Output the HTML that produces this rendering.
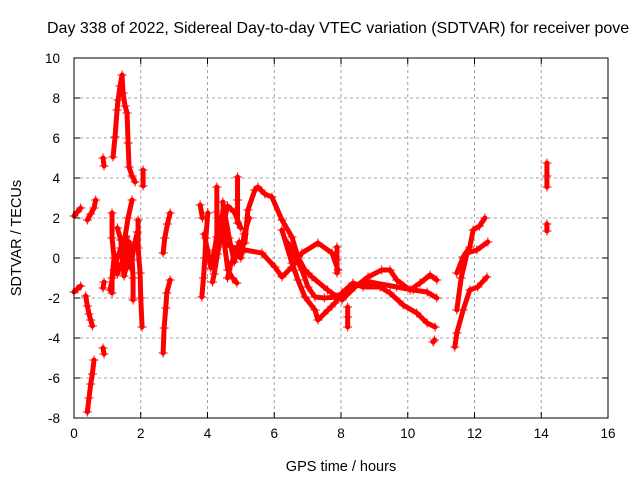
<!DOCTYPE html>
<html><head><meta charset="utf-8"><style>
body{margin:0;background:#fff}
svg{display:block;font-family:"Liberation Sans",sans-serif}
</style></head><body>
<svg id="chart" width="640" height="480">
<text x="47" y="33" font-size="16">Day 338 of 2022, Sidereal Day-to-day VTEC variation (SDTVAR) for receiver pove</text>
<text x="341" y="471" font-size="14.5" text-anchor="middle">GPS time / hours</text>
<text transform="translate(21,238) rotate(-90)" font-size="14.5" text-anchor="middle">SDTVAR / TECUs</text>
<g id="grid"></g><g id="marks"></g><g id="axes"></g>
</svg>
<script>
const xTicks=[0,2,4,6,8,10,12,14,16];
const yTicks=[-8,-6,-4,-2,0,2,4,6,8,10];
const track1=[[0,2.1],[0.1,2.3],[0.2,2.5]];
const track2=[[0,-1.7],[0.1,-1.55],[0.2,-1.4]];
const track3=[[0.35,-1.9],[0.4,-2.4],[0.45,-2.8],[0.5,-3.1],[0.55,-3.4]];
const track4=[[0.4,-7.7],[0.45,-7.0],[0.5,-6.3],[0.55,-5.8],[0.6,-5.1]];
const track5=[[0.4,1.9],[0.5,2.2],[0.6,2.5],[0.65,2.9]];
const track6=[[0.87,5.0],[0.9,4.6]];
const track7=[[0.87,-4.5],[0.9,-4.8]];
const track8=[[0.87,-1.5],[0.9,-1.2]];
const track9=[[1.17,5.05],[1.23,6.05],[1.29,7.4],[1.32,7.9],[1.38,8.6],[1.44,9.15],[1.47,8.25],[1.53,7.6],[1.59,7.25],[1.62,5.75],[1.65,4.55],[1.74,4.1],[1.83,3.8]];
const track10=[[1.08,-1.6],[1.2,-0.6],[1.3,0.0],[1.4,0.5],[1.53,1.05],[1.62,2.0],[1.74,2.9]];
const track11=[[1.14,2.25],[1.14,1.0],[1.2,0.0],[1.14,-1.0],[1.14,-1.75]];
const track12=[[1.65,0.8],[1.74,-0.1],[1.77,-1.0],[1.77,-2.1]];
const track13=[[1.92,1.9],[1.92,0.5],[1.98,-0.75],[2.0,-2.0],[2.04,-3.45]];
const track14=[[2.07,4.4],[2.07,3.6]];
const track15=[[2.67,0.25],[2.72,1.0],[2.8,1.7],[2.88,2.25]];
const track16=[[2.67,-4.75],[2.7,-3.5],[2.75,-2.5],[2.78,-1.75],[2.88,-1.1]];
const track17=[[3.83,-1.95],[3.88,-1.0],[3.92,0.0],[3.95,1.0],[4.01,2.25]];
const track18=[[3.78,2.65],[3.85,2.0]];
const track19=[[4.28,3.55],[4.28,2.3],[4.28,1.05]];
const track20=[[4.46,2.8],[4.5,1.6],[4.52,0.55],[4.61,-0.6],[4.75,-1.0],[4.88,-1.25]];
const track21=[[4.9,4.05],[4.9,2.9],[4.9,1.75]];
const track22=[[4.31,0.9],[4.73,0.55],[5.12,0.4],[5.63,0.25],[6.02,-0.45],[6.23,-0.95],[6.53,-0.45],[6.83,0.25],[7.31,0.75],[7.73,0.25],[7.91,-0.6]];
const track23=[[5.12,0.75],[5.21,2.4],[5.42,3.4],[5.51,3.55],[5.72,3.2],[5.93,3.05],[6.23,1.9],[6.53,1.05],[6.71,0.05],[6.92,-0.6],[7.13,-0.95],[7.6,-1.6],[8.03,-2.1],[8.42,-1.45],[8.81,-0.95],[9.22,-0.6],[9.47,-0.6],[9.67,-1.1],[10.07,-1.6],[10.37,-1.25],[10.67,-0.85],[10.87,-1.1]];
const track24=[[6.23,1.4],[6.53,-0.25],[6.71,-1.1],[6.92,-1.95],[7.22,-2.6],[7.31,-3.1],[7.61,-2.6],[7.82,-2.25],[8.03,-1.75],[8.36,-1.25],[8.66,-1.45],[9.17,-1.45],[9.47,-1.75],[9.86,-2.35],[10.27,-2.75],[10.58,-3.25],[10.82,-3.45]];
const track25=[[6.41,0.75],[6.83,-0.6],[7.01,-1.45],[7.22,-1.95],[7.5,-2.0],[7.88,-1.95],[8.36,-1.45],[8.87,-1.2],[9.67,-1.45],[10.16,-1.6],[10.58,-1.7],[10.87,-2.0]];
const track26=[[7.88,0.55],[7.88,-0.1],[7.88,-0.75]];
const track27=[[8.2,-2.45],[8.2,-2.95],[8.2,-3.45]];
const track28=[[10.76,-4.2],[10.8,-4.1]];
const track29=[[5.0,1.5],[4.8,2.3],[4.6,2.6],[4.45,1.5],[4.3,0.2],[4.2,-0.8],[4.15,-1.2]];
const track30=[[11.47,-0.75],[11.66,0.05],[11.86,0.55],[11.96,1.4],[12.15,1.6],[12.31,2.0]];
const track31=[[11.47,-2.6],[11.6,-1.0],[11.78,0.25],[12.07,0.4],[12.4,0.8]];
const track32=[[11.41,-4.45],[11.47,-3.75],[11.66,-2.6],[11.86,-1.6],[12.1,-1.45],[12.37,-0.95]];
const track33=[[14.17,4.75],[14.17,4.1],[14.17,3.55]];
const track34=[[14.17,1.7],[14.17,1.35]];
const track35=[[1.3,-0.8],[1.4,-0.3],[1.5,-0.6],[1.6,0.2],[1.7,-0.5],[1.8,0.6],[1.9,1.3]];
const track36=[[1.55,1.1],[1.6,-0.2],[1.5,-0.9],[1.4,0.9],[1.3,1.5]];
const track37=[[3.9,1.2],[4.0,0.4],[4.1,-0.5],[4.2,0.3],[4.35,1.8],[4.5,2.4],[4.65,1.0],[4.8,-0.2],[4.95,0.8]];
const track38=[[4.6,-1.0],[4.7,-0.3],[4.85,0.2],[5.0,0.0],[5.1,1.2],[5.25,2.0]];
const tracks=[track1,track2,track3,track4,track5,track6,track7,track8,track9,track10,track11,track12,track13,track14,track15,track16,track17,track18,track19,track20,track21,track22,track23,track24,track25,track26,track27,track28,track29,track30,track31,track32,track33,track34,track35,track36,track37,track38];

const L=74,R=608,T=58,B=418,NS="http://www.w3.org/2000/svg";
const xs=v=>L+(v-0)/(16-0)*(R-L);
const ys=v=>B-(v+8)/(18)*(B-T);
function mk(tag,attrs,parent){const e=document.createElementNS(NS,tag);for(const k in attrs)e.setAttribute(k,attrs[k]);parent.appendChild(e);return e;}
const grid=document.getElementById('grid'),axes=document.getElementById('axes'),marks=document.getElementById('marks');
xTicks.forEach(t=>{const x=xs(t);
 if(t>0&&t<16){const g=mk('line',{x1:x,x2:x,y1:T,y2:B,stroke:'#a0a0a0','stroke-dasharray':'3,3','stroke-width':1},grid);
 
 }
 mk('line',{x1:x,x2:x,y1:B,y2:B-6,stroke:'#000'},axes);
 mk('line',{x1:x,x2:x,y1:T,y2:T+6,stroke:'#000'},axes);
 const tx=mk('text',{x:x,y:B+20,'font-size':13.5,'text-anchor':'middle'},axes);tx.textContent=t;
 
 
});
yTicks.forEach(t=>{const y=ys(t);
 if(t>-8&&t<10){const g=mk('line',{x1:L,x2:R,y1:y,y2:y,stroke:'#a0a0a0','stroke-dasharray':'3,3','stroke-width':1},grid);
 
 }
 mk('line',{x1:L,x2:L+6,y1:y,y2:y,stroke:'#000'},axes);
 mk('line',{x1:R,x2:R-6,y1:y,y2:y,stroke:'#000'},axes);
 const tx=mk('text',{x:L-14,y:y+5,'font-size':13.5,'text-anchor':'end'},axes);tx.textContent=t;
 
 
});
const frame=mk('rect',{x:L,y:T,width:R-L,height:B-T,fill:'none',stroke:'#000'},axes);


tracks.forEach((tr,i)=>{
 const g=mk('g',{},marks);
 
 
 if(tr.length>1){mk('polyline',{points:tr.map(p=>xs(p[0])+','+ys(p[1])).join(' '),fill:'none',stroke:'#ff0000','stroke-width':5,'stroke-linejoin':'round','stroke-linecap':'round'},g);}
 tr.forEach(p=>{const x=xs(p[0]),y=ys(p[1]);
  mk('path',{d:`M${x-4.5},${y}H${x+4.5}M${x},${y-4.5}V${y+4.5}`,stroke:'#ff0000','stroke-width':1},g);});
});
</script>
</body></html>
